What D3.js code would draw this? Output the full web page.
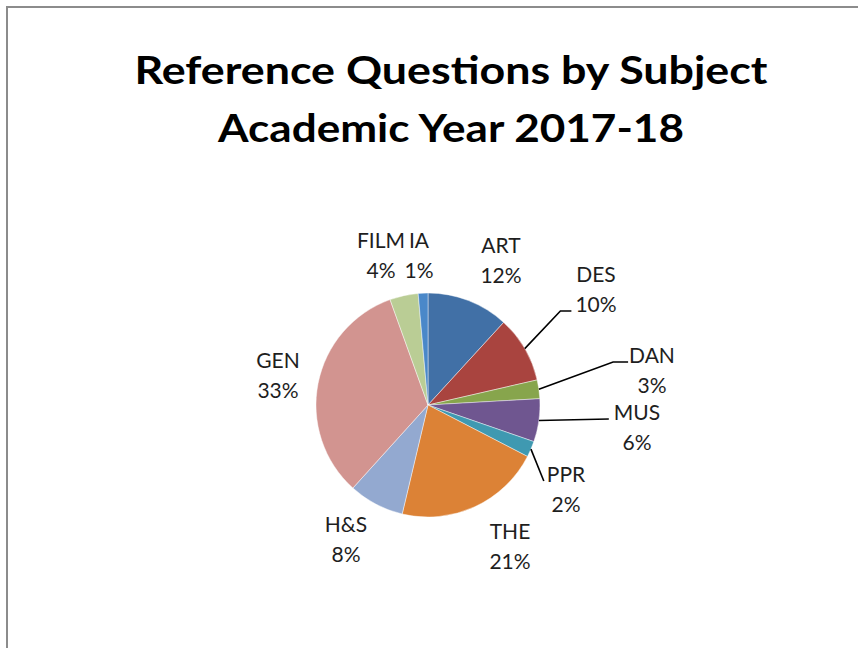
<!DOCTYPE html>
<html>
<head>
<meta charset="utf-8">
<script src="https://cdn.jsdelivr.net/npm/d3@7"></script>
<style>
  html, body { margin: 0; padding: 0; background: #fff; }
  svg { display: block; }
</style>
</head>
<body>
<svg id="chart" width="858" height="648"></svg>
<script>
// ---- data ----
const categories = ["ART", "DES", "DAN", "MUS", "PPR", "THE", "H&S", "GEN", "FILM", "IA"];
const values = [11.8, 9.6, 2.7, 6.2, 2.3, 21.1, 8.0, 32.8, 4.1, 1.4];
const titleLines = ["Reference Questions by Subject", "Academic Year 2017-18"];

// ---- styles / layout ----
const sliceColors = ["#4170a6", "#a9443f", "#87a54c", "#6f5690", "#3f99b1", "#dc8236",
                     "#93a9d0", "#d29490", "#bacd95", "#4a88c9"];
const labelOffsets = [[73, -152], [168, -123], [224, -42], [209, 15], [138, 77],
                      [82, 134], [-82, 127], [-150, -37], [-47, -157], [-9, -157]];
const leaders = { "DES": { line: 1, gap: 4, h: 11 }, "DAN": { line: 0, gap: 1, h: 15 },
                  "MUS": { line: 0, gap: 5, h: 0 }, "PPR": { line: 0, gap: 3, h: 0 } };

const W = 858, H = 648;
const cx = 428, cy = 405, R = 112;
const lineGap = 30;

const svg = d3.select("#chart");

// frame
svg.append("rect")
  .attr("x", 7).attr("y", 7).attr("width", 920).attr("height", 720)
  .attr("fill", "none").attr("stroke", "#8c8c8c").attr("stroke-width", 2);

// title
const titleFont = "Lato, 'Open Sans', sans-serif";
const titleWidths = [633, 466];
const titleBase = [84, 142];
titleLines.forEach((t, i) => {
  svg.append("text")
    .attr("x", 451).attr("y", titleBase[i])
    .attr("text-anchor", "middle")
    .attr("font-family", titleFont).attr("font-weight", "bold")
    .attr("font-size", 39).attr("fill", "#000")
    .attr("textLength", titleWidths[i]).attr("lengthAdjust", "spacingAndGlyphs")
    .text(t);
});

// pie
const total = d3.sum(values);
const data = categories.map((c, i) => ({ cat: c, value: values[i], i }));
const pie = d3.pie().sort(null).value(d => d.value).startAngle(0).endAngle(2 * Math.PI);
const arcs = pie(data);
const arc = d3.arc().innerRadius(0).outerRadius(R);
const color = d3.scaleOrdinal().domain(categories).range(sliceColors);

const g = svg.append("g").attr("transform", `translate(${cx},${cy})`);
g.selectAll("path.slice").data(arcs).enter().append("path")
  .attr("class", "slice")
  .attr("d", arc)
  .attr("fill", d => color(d.data.cat))
  .attr("stroke", "rgba(255,255,255,0.55)")
  .attr("stroke-width", 0.8);

// labels
const labelFont = "Lato, 'Open Sans', sans-serif";
const lg = g.append("g");
arcs.forEach((d, i) => {
  const [ox, oy] = labelOffsets[i];
  const pct = Math.round(d.data.value / total * 100) + "%";
  const t = lg.append("text")
    .attr("font-family", labelFont).attr("font-size", 21)
    .attr("fill", "#1e1e1e").attr("text-anchor", "middle");
  const t1 = t.append("tspan").attr("x", ox).attr("y", oy).text(d.data.cat);
  const t2 = t.append("tspan").attr("x", ox).attr("y", oy + lineGap).text(pct);

  const L = leaders[d.data.cat];
  if (L) {
    const mid = (d.startAngle + d.endAngle) / 2;
    const sx = R * Math.sin(mid), sy = -R * Math.cos(mid);
    const span = L.line === 0 ? t1.node() : t2.node();
    const bb = span.getBBox();
    const ex = bb.x - L.gap;
    const ey = oy + L.line * lineGap - 1;
    const pts = [[sx, sy]];
    if (L.h > 0) pts.push([ex - L.h, ey]);
    pts.push([ex, ey]);
    lg.append("path")
      .attr("d", d3.line()(pts))
      .attr("fill", "none").attr("stroke", "#000").attr("stroke-width", 1.6);
  }
});
</script>
</body>
</html>
